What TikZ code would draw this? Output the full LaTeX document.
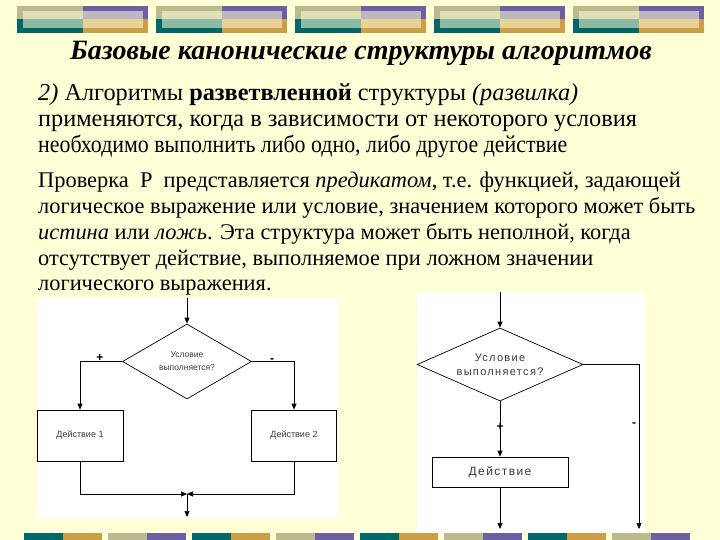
\documentclass[tikz,border=0pt]{standalone}
\usepackage{fontspec}
\setmainfont{Liberation Serif}
\newfontfamily\flowfont{Liberation Sans}
\newfontfamily\flowwide[LetterSpace=12]{Liberation Sans}
\usetikzlibrary{shapes.geometric,arrows.meta}

\definecolor{slidebg}{HTML}{FFFFD7}
\definecolor{barteal}{HTML}{006868}
\definecolor{bargold}{HTML}{CC9E45}
\definecolor{barkhaki}{HTML}{BBBA8C}
\definecolor{barpurple}{HTML}{6B60A6}
\definecolor{flowtext}{HTML}{3A3A3A}

\tikzset{
  flowline/.style={line width=0.7pt, black},
  flowarrow/.style={flowline, -{Triangle[length=6pt,width=5pt]}},
  condbox/.style={diamond, draw, line width=0.7pt, fill=white, aspect=1.7,
    inner sep=0pt, align=center, text=flowtext},
  actbox/.style={rectangle, draw, line width=0.7pt, fill=white,
    inner sep=0pt, text=flowtext},
  bodyline/.style={anchor=base west, inner sep=0pt},
  signlabel/.style={inner sep=0pt, font=\flowfont\bfseries\fontsize{12}{12}\selectfont},
}

\begin{document}
\begin{tikzpicture}[x=1pt,y=-1pt]
  \useasboundingbox (0,0) rectangle (720,540);
  \fill [slidebg] (0,0) rectangle (720,540);

  % top bar
  \foreach \x in {17,156,295,434,573} {
    \fill [barkhaki]  (\x,6) rectangle ++(65.5,13.5);
    \fill [barteal]   (\x,19.5) rectangle ++(65.5,13.5);
    \fill [barpurple] (\x+65.5,6) rectangle ++(65.5,13.5);
    \fill [bargold]   (\x+65.5,19.5) rectangle ++(65.5,13.5);
    \fill [slidebg, opacity=0.55] (\x+6,11) rectangle (\x+126,28);
  }

  % bottom bar
  \foreach \i in {0,...,7} {
    \ifodd\i
      \fill [barkhaki]  (24+84*\i,533) rectangle ++(39,7);
      \fill [barpurple] (63+84*\i,533) rectangle ++(39,7);
    \else
      \fill [barteal]   (24+84*\i,533) rectangle ++(39,7);
      \fill [bargold]   (63+84*\i,533) rectangle ++(39,7);
    \fi
  }

  % texts
  \node [anchor=base, inner sep=0pt, font=\fontsize{28}{32}\selectfont] (title)
    at (361,60) {\bfseries\itshape Базовые канонические структуры алгоритмов};

  \begin{scope}[every node/.style={bodyline, font=\fontsize{24.3}{26}\selectfont}]
    \node (p1a) at (38,101) {\textit{2)} Алгоритмы \textbf{разветвленной} структуры \textit{(развилка)}};
    \node (p1b) at (38,127) {применяются, когда в зависимости от некоторого условия};
    \node (p1c) at (38,153) {\scalebox{0.9}[1]{необходимо выполнить либо одно, либо другое действие}};
  \end{scope}
  \begin{scope}[every node/.style={bodyline, font=\fontsize{22.4}{26}\selectfont}]
    \node (p2a) at (38,188) {Проверка\ \ Р\ \ представляется \textit{предикатом}, т.е. функцией, задающей};
    \node (p2b) at (38,214) {логическое выражение или условие, значением которого может быть};
    \node (p2c) at (38,239.5) {\textit{истина} или \textit{ложь}. Эта структура может быть неполной, когда};
    \node (p2d) at (38,265) {отсутствует действие, выполняемое при ложном значении};
    \node (p2e) at (38,290.5) {логического выражения.};
  \end{scope}

  % full branching
  \fill [white] (37,298) rectangle (338,519);
  \coordinate (s1) at (187,298);
  \node [condbox, minimum width=129pt, minimum height=75pt,
    font=\flowfont\fontsize{8.5}{13}\selectfont] (c1) at (187,361.5) {Условие\\выполняется?};
  \node [actbox, minimum width=86pt, minimum height=51pt,
    font=\flowfont\fontsize{9}{10}\selectfont] (a1) at (80,435.5) {Действие 1};
  \node [actbox, minimum width=85pt, minimum height=51pt,
    font=\flowfont\fontsize{9}{10}\selectfont] (a2) at (294,435.5) {Действие 2};
  \coordinate (m1) at (187,494);
  \coordinate (e1) at (187,517);
  \draw [flowarrow] (s1) -- (c1.north);
  \draw [flowarrow] (c1.west) -| (a1.north);
  \draw [flowarrow] (c1.east) -| (a2.north);
  \draw [flowarrow] (a1.south) |- (m1);
  \draw [flowarrow] (a2.south) |- (m1);
  \draw [flowarrow] (m1) -- (e1);
  \node [signlabel] (plus1) at (100,358) {+};
  \node [signlabel] (minus1) at (272,361) {-};

  % incomplete branching
  \fill [white] (417,292) rectangle (645,533);
  \coordinate (s2) at (500,292);
  \node [condbox, minimum width=166pt, minimum height=73pt,
    font=\flowwide\fontsize{11}{14}\selectfont] (c2) at (500,364.5) {Условие\\выполняется?};
  \node [actbox, minimum width=136pt, minimum height=30pt,
    font=\flowwide\fontsize{12}{13}\selectfont] (a3) at (500,472) {Действие};
  \coordinate (e2) at (500,529);
  \coordinate (r2) at (639,529);
  \draw [flowarrow] (s2) -- (c2.north);
  \draw [flowarrow] (c2.south) -- (a3.north);
  \draw [flowarrow] (a3.south) -- (e2);
  \draw [flowarrow] (c2.east) -| (r2);
  \node [signlabel] (plus2) at (500,427) {+};
  \node [signlabel] (minus2) at (634,425) {-};
\end{tikzpicture}
\end{document}
